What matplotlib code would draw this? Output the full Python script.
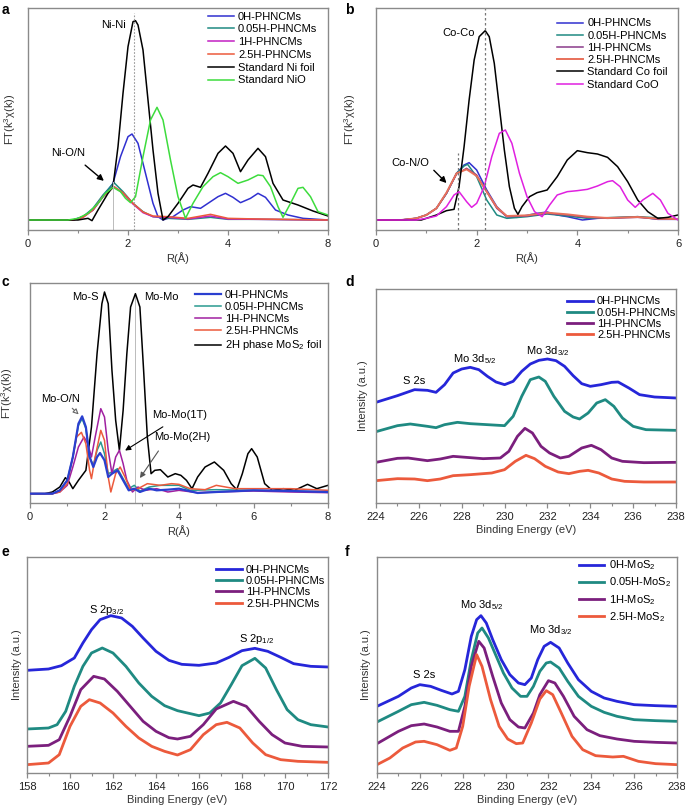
import matplotlib
matplotlib.use("Agg")
import matplotlib.pyplot as plt
from matplotlib.ticker import MultipleLocator

plt.rcParams['font.family'] = ['Liberation Sans', 'DejaVu Sans']
plt.rcParams['mathtext.fontset'] = 'custom'
plt.rcParams['mathtext.rm'] = 'Liberation Sans'
plt.rcParams['mathtext.it'] = 'Liberation Sans:italic'
plt.rcParams['mathtext.default'] = 'regular'

# ---------------- data (heights in arbitrary units) ----------------
# Panel a: Ni K-edge FT-EXAFS
a_black_x = [0, 1.0, 1.2, 1.28, 1.4, 1.6, 1.7, 1.8, 1.9, 2.0, 2.1, 2.15, 2.2, 2.3, 2.4, 2.5, 2.6, 2.7, 2.8, 3.0, 3.2, 3.3, 3.45, 3.6, 3.8, 3.95, 4.1, 4.25, 4.4, 4.6, 4.75, 4.9, 5.1, 5.4, 5.7, 6.0]
a_black_y = [0, 0, 5, -2, 30, 80, 100, 220, 380, 520, 595, 598, 585, 510, 360, 210, 80, 0, 10, 50, 95, 105, 98, 140, 200, 222, 200, 145, 180, 215, 190, 110, 60, 45, 27, 12]
a_green_x = [0, 0.8, 1.0, 1.2, 1.4, 1.55, 1.7, 1.85, 1.95, 2.05, 2.15, 2.3, 2.45, 2.58, 2.7, 2.85, 3.0, 3.15, 3.3, 3.5, 3.7, 3.85, 4.0, 4.2, 4.4, 4.6, 4.7, 4.85, 5.0, 5.1, 5.25, 5.4, 5.5, 5.65, 5.8, 6.0]
a_green_y = [0, 0, 5, 20, 50, 80, 98, 85, 65, 52, 70, 190, 300, 338, 300, 180, 70, 5, 50, 100, 130, 142, 130, 110, 120, 135, 133, 100, 40, 8, 50, 95, 98, 70, 25, 15]
a_blue_x = [0, 0.9, 1.1, 1.3, 1.5, 1.7, 1.85, 2.0, 2.08, 2.2, 2.35, 2.5, 2.6, 2.7, 2.9, 3.1, 3.25, 3.45, 3.6, 3.8, 3.95, 4.1, 4.25, 4.45, 4.6, 4.75, 4.95, 5.2, 5.5, 6.0]
a_blue_y = [0, 0, 10, 30, 70, 110, 190, 250, 258, 230, 140, 50, 10, 0, 10, 30, 40, 35, 50, 70, 80, 68, 52, 65, 80, 68, 30, 15, 5, 0]
a_s_x = [0, 0.9, 1.1, 1.3, 1.5, 1.72, 1.9, 2.1, 2.3, 2.5, 2.8, 3.2, 3.65, 4.0, 4.6, 6.0]
a_teal_y = [0, 0, 10, 35, 75, 112, 85, 50, 25, 10, 5, 2, 8, 2, 2, 0]
a_mag_y = [0, 0, 8, 30, 70, 100, 80, 48, 22, 10, 8, 3, 12, 3, 2, 0]
a_red_y = [0, 0, 8, 30, 70, 100, 82, 50, 24, 12, 10, 5, 17, 5, 3, 0]
a_ticks = [0, 2, 4, 6]
a_ticklabels = ['0', '2', '4', '8']

# Panel b: Co K-edge FT-EXAFS
b_black_x = [0, 0.9, 1.0, 1.2, 1.4, 1.55, 1.65, 1.75, 1.85, 1.95, 2.05, 2.17, 2.25, 2.35, 2.45, 2.55, 2.65, 2.75, 2.82, 2.9, 3.05, 3.2, 3.4, 3.6, 3.8, 4.0, 4.2, 4.4, 4.6, 4.8, 5.0, 5.2, 5.4, 5.6, 5.8, 6.0]
b_black_y = [0, 0, 5, 15, 28, 32, 100, 220, 360, 480, 550, 568, 550, 470, 340, 210, 100, 35, 17, 40, 70, 82, 90, 130, 180, 208, 202, 198, 188, 160, 115, 60, 25, 5, 8, 15]
b_coo_x = [0, 0.8, 1.0, 1.2, 1.4, 1.55, 1.65, 1.8, 1.9, 2.0, 2.15, 2.3, 2.45, 2.57, 2.7, 2.85, 3.0, 3.15, 3.3, 3.45, 3.6, 3.8, 4.0, 4.2, 4.4, 4.6, 4.7, 4.85, 5.0, 5.15, 5.3, 5.5, 5.65, 5.8, 6.0]
b_coo_y = [0, 0, 5, 12, 40, 75, 85, 55, 38, 50, 100, 190, 260, 270, 230, 140, 70, 25, 10, 45, 75, 85, 88, 92, 102, 115, 118, 100, 60, 38, 60, 80, 60, 20, 0]
b_blue_x = [0, 0.5, 0.8, 1.0, 1.2, 1.4, 1.6, 1.75, 1.85, 2.0, 2.2, 2.4, 2.6, 2.8, 3.2, 3.4, 3.6, 3.8, 4.1, 4.4, 4.8, 5.2, 5.6, 6.0]
b_blue_y = [0, 0, 5, 15, 35, 80, 140, 165, 172, 150, 90, 40, 10, 8, 20, 24, 15, 10, 0, 5, 7, 10, 2, 2]
b_teal_x = [0, 0.5, 0.8, 1.0, 1.2, 1.4, 1.6, 1.75, 1.82, 2.0, 2.2, 2.4, 2.6, 3.0, 3.4, 3.8, 4.2, 5.2, 6.0]
b_teal_y = [0, 0, 5, 15, 35, 80, 140, 162, 167, 130, 60, 15, 5, 10, 18, 12, 5, 10, 3]
b_s_x = [0, 0.5, 0.8, 1.0, 1.2, 1.4, 1.6, 1.8, 2.0, 2.2, 2.4, 2.6, 3.0, 3.4, 3.8, 4.2, 4.6, 5.2, 5.6, 6.0]
b_mag_y = [0, 0, 5, 15, 35, 80, 138, 155, 135, 85, 35, 10, 12, 20, 15, 8, 5, 8, 3, 2]
b_red_y = [0, 0, 5, 15, 35, 82, 140, 152, 132, 85, 38, 12, 14, 22, 17, 10, 6, 9, 4, 3]

# Panel c: Mo K-edge FT-EXAFS
c_black_x = [0, 0.4, 0.6, 0.8, 0.95, 1.05, 1.15, 1.3, 1.5, 1.65, 1.8, 1.93, 2.0, 2.1, 2.2, 2.3, 2.4, 2.5, 2.6, 2.7, 2.83, 2.95, 3.05, 3.15, 3.25, 3.35, 3.5, 3.7, 3.9, 4.05, 4.2, 4.35, 4.5, 4.7, 4.95, 5.2, 5.4, 5.55, 5.7, 5.85, 5.95, 6.1, 6.3, 6.5, 6.8, 7.1, 7.45, 7.7, 8.0]
c_black_y = [0, 0, 5, 20, 48, 35, 15, 40, 70, 200, 420, 570, 605, 570, 370, 220, 130, 250, 420, 560, 600, 560, 370, 170, 60, 70, 72, 50, 60, 55, 40, 15, 50, 80, 95, 70, 30, 12, 60, 120, 135, 110, 30, 10, 15, 10, 28, 15, 25]
c_blue_x = [0, 0.6, 0.8, 1.0, 1.15, 1.3, 1.4, 1.5, 1.6, 1.7, 1.8, 1.88, 2.0, 2.1, 2.2, 2.35, 2.5, 2.65, 2.8, 2.95, 3.2, 3.4, 3.7, 4.0, 4.5, 5.0, 6.0, 7.0, 8.0]
c_blue_y = [0, 0, 10, 40, 110, 210, 232, 200, 110, 80, 110, 122, 100, 50, 60, 70, 40, 10, 15, 5, 15, 10, 12, 15, 2, 5, 10, 8, 5]
c_teal_x = [0, 0.6, 0.8, 1.0, 1.15, 1.3, 1.4, 1.5, 1.6, 1.7, 1.8, 1.9, 2.0, 2.1, 2.2, 2.35, 2.5, 2.65, 2.8, 2.95, 3.2, 3.5, 3.8, 4.0, 4.3, 5.0, 6.0, 7.0, 8.0]
c_teal_y = [0, 0, 10, 40, 110, 205, 225, 195, 110, 85, 130, 155, 120, 60, 65, 75, 45, 15, 25, 8, 20, 25, 25, 25, 10, 12, 10, 8, 5]
c_mag_x = [0, 0.6, 0.8, 1.0, 1.15, 1.3, 1.45, 1.55, 1.65, 1.75, 1.9, 2.0, 2.1, 2.2, 2.3, 2.4, 2.5, 2.6, 2.75, 2.9, 3.1, 3.4, 3.7, 4.0, 4.5, 5.0, 6.0, 7.0, 8.0]
c_mag_y = [0, 0, 5, 25, 80, 140, 170, 150, 110, 170, 255, 230, 130, 60, 110, 130, 90, 40, 5, 20, 10, 15, 5, 10, 3, 5, 8, 5, 3]
c_red_x = [0, 0.6, 0.8, 1.0, 1.15, 1.25, 1.38, 1.5, 1.6, 1.65, 1.75, 1.9, 2.0, 2.1, 2.17, 2.3, 2.42, 2.55, 2.7, 2.9, 3.15, 3.5, 3.8, 4.0, 4.3, 4.7, 5.0, 5.5, 6.0, 7.0, 8.0]
c_red_y = [0, 0, 5, 30, 110, 170, 184, 150, 70, 45, 110, 190, 160, 50, 5, 60, 80, 50, 10, 15, 30, 25, 30, 28, 15, 12, 25, 15, 15, 15, 10]

# Panel d: Mo 3d XPS of PHNCMs
d_blue_x = [224, 225, 225.8, 226.4, 226.8, 227.2, 227.6, 228.0, 228.4, 228.8, 229.2, 229.6, 230.0, 230.4, 230.8, 231.2, 231.6, 232.0, 232.4, 232.8, 233.2, 233.6, 234.0, 234.5, 235.0, 235.3, 235.8, 236.3, 237.0, 238.0]
d_blue_y = [302, 322, 340, 338, 332, 355, 390, 402, 407, 400, 380, 363, 355, 365, 395, 417, 428, 432, 427, 410, 382, 358, 350, 355, 362, 363, 345, 325, 318, 315]
d_teal_x = [224, 225, 225.6, 226.4, 226.8, 227.2, 227.8, 228.4, 229.2, 230.0, 230.4, 230.8, 231.2, 231.6, 231.9, 232.3, 232.8, 233.2, 233.5, 233.9, 234.3, 234.7, 235.1, 235.5, 236.0, 236.6, 238.0]
d_teal_y = [214, 232, 237, 230, 226, 235, 242, 238, 235, 232, 260, 320, 370, 378, 365, 320, 275, 258, 252, 270, 300, 310, 290, 255, 230, 220, 218]
d_purp_x = [224, 225, 225.5, 226.4, 227.0, 227.6, 228.2, 229.0, 229.8, 230.2, 230.6, 230.95, 231.3, 231.7, 232.1, 232.6, 233.0, 233.6, 234.05, 234.5, 235.0, 235.5, 236.5, 238.0]
d_purp_y = [122, 134, 135, 127, 132, 140, 137, 133, 135, 155, 200, 224, 210, 170, 150, 135, 140, 165, 173, 160, 135, 125, 121, 122]
d_red_x = [224, 225, 225.8, 226.4, 227.0, 227.6, 228.4, 229.4, 230.0, 230.5, 231.0, 231.4, 231.9, 232.5, 233.0, 233.5, 233.9, 234.4, 235.0, 235.6, 236.5, 238.0]
d_red_y = [67, 73, 72, 67, 72, 82, 85, 90, 100, 125, 143, 133, 110, 93, 88, 95, 98, 90, 72, 65, 63, 63]

# Panel e: S 2p XPS of PHNCMs
e_blue_x = [158, 159, 159.6, 160.2, 160.6, 161.0, 161.4, 161.9, 162.4, 162.9, 163.4, 164.0, 164.6, 165.2, 166.0, 166.8, 167.4, 168.0, 168.6, 169.2, 169.8, 170.4, 171.2, 172]
e_blue_y = [308, 312, 322, 345, 390, 430, 460, 472, 465, 440, 405, 365, 338, 326, 323, 330, 347, 367, 374, 365, 347, 328, 320, 318]
e_teal_x = [158, 159, 159.4, 159.8, 160.2, 160.6, 161.0, 161.5, 162.0, 162.6, 163.2, 163.8, 164.4, 165.0, 165.6, 166.0, 166.5, 167.0, 167.5, 168.0, 168.6, 169.1, 169.6, 170.1, 170.6, 171.2, 172]
e_teal_y = [132, 135, 145, 185, 260, 320, 360, 375, 360, 320, 270, 230, 202, 187, 178, 172, 180, 210, 265, 322, 344, 315, 250, 190, 160, 145, 138]
e_purp_x = [158, 159, 159.5, 160.0, 160.5, 161.1, 161.6, 162.2, 162.8, 163.4, 164.0, 164.6, 165.0, 165.6, 166.2, 166.8, 167.6, 168.2, 168.8, 169.4, 170.0, 170.8, 172]
e_purp_y = [80, 83, 100, 170, 250, 290, 282, 245, 200, 155, 125, 106, 102, 110, 145, 192, 215, 200, 155, 115, 90, 80, 78]
e_red_x = [158, 159, 159.5, 160.0, 160.5, 160.9, 161.4, 162.0, 162.6, 163.2, 163.8, 164.4, 165.0, 165.6, 166.2, 166.8, 167.3, 167.9, 168.5, 169.1, 169.8, 170.6, 172]
e_red_y = [25, 30, 55, 140, 200, 220, 210, 180, 140, 105, 80, 65, 54, 70, 115, 145, 152, 135, 90, 55, 40, 35, 32]

# Panel f: Mo 3d XPS of MoS2
f_blue_x = [224, 225, 225.6, 226.0, 226.5, 227.0, 227.5, 227.8, 228.1, 228.4, 228.65, 228.85, 229.1, 229.4, 229.8, 230.2, 230.6, 230.9, 231.2, 231.5, 231.8, 232.1, 232.5, 232.9, 233.4, 234.0, 234.6, 235.2, 236.0, 237.0, 238]
f_blue_y = [200, 230, 255, 265, 260, 248, 237, 245, 310, 410, 460, 472, 450, 400, 340, 295, 270, 265, 285, 340, 380, 392, 375, 330, 280, 245, 225, 215, 205, 202, 200]
f_teal_x = [224, 225, 225.6, 226.2, 226.8, 227.4, 227.8, 228.1, 228.4, 228.7, 228.9, 229.2, 229.5, 229.9, 230.3, 230.7, 231.0, 231.3, 231.6, 231.9, 232.1, 232.5, 232.9, 233.4, 234.0, 234.6, 235.2, 236.0, 237.0, 238]
f_teal_y = [153, 185, 205, 212, 203, 190, 185, 230, 340, 420, 435, 405, 360, 300, 255, 230, 230, 260, 305, 330, 333, 315, 275, 230, 200, 182, 170, 160, 157, 155]
f_purp_x = [224, 225, 225.6, 226.2, 226.8, 227.4, 227.8, 228.1, 228.4, 228.75, 229.0, 229.4, 229.8, 230.2, 230.6, 230.9, 231.3, 231.6, 232.0, 232.3, 232.7, 233.2, 233.8, 234.4, 235.2, 236.0, 237.0, 238]
f_purp_y = [88, 125, 142, 147, 138, 125, 125, 200, 320, 395, 375, 290, 210, 160, 138, 135, 180, 235, 277, 270, 230, 170, 130, 112, 102, 95, 92, 90]
f_red_x = [224, 224.6, 225.2, 225.8, 226.2, 226.8, 227.4, 227.7, 228.0, 228.3, 228.65, 228.9, 229.3, 229.7, 230.1, 230.5, 230.8, 231.2, 231.6, 231.9, 232.2, 232.6, 233.1, 233.6, 234.2, 235.0, 235.5, 236.2, 237.0, 238]
f_red_y = [25, 45, 75, 93, 95, 85, 68, 75, 140, 260, 355, 320, 220, 140, 102, 88, 90, 150, 222, 247, 235, 180, 110, 70, 52, 48, 50, 35, 28, 25]

# labels
labels_pn = ['0H-PHNCMs', '0.05H-PHNCMs', '1H-PHNCMs', '2.5H-PHNCMs']
labels_mos2 = ['0H-MoS$_2$', '0.05H-MoS$_2$', '1H-MoS$_2$', '2.5H-MoS$_2$']

# ---------------- styling ----------------
BLUE = '#2626d9'
TEAL = '#1f8a82'
RED = '#ec5a3c'
PURP = '#7b1f7d'
GRAY = '#8a8a8a'

W, H = 685, 807
fig = plt.figure(figsize=(W / 100, H / 100), dpi=100)


def ax_at(l, t, r, b):
    return fig.add_axes([l / W, 1 - b / H, (r - l) / W, (b - t) / H])


def style(ax, major, minor, xlab, ylab, ylab_x):
    for s in ax.spines.values():
        s.set_color(GRAY)
        s.set_linewidth(1.0)
    ax.set_yticks([])
    ax.xaxis.set_major_locator(MultipleLocator(major))
    ax.xaxis.set_minor_locator(MultipleLocator(minor))
    ax.tick_params(axis='x', which='major', direction='out', length=3.5, width=0.9,
                   color=GRAY, labelsize=8, labelcolor='#222222', pad=3)
    ax.tick_params(axis='x', which='minor', direction='out', length=2, width=0.8, color=GRAY)
    ax.set_xlabel(xlab, fontsize=8, color='#333333', labelpad=2)
    ax.set_ylabel(ylab, fontsize=8, color='#333333')
    ax.yaxis.set_label_coords(ylab_x, 0.5)


def leg(ax, x, y, spacing, hl=2.3):
    return ax.legend(loc='upper left', bbox_to_anchor=(x, y), frameon=False, fontsize=8,
                     handlelength=hl, handletextpad=0.4, labelspacing=spacing, borderpad=0,
                     borderaxespad=0)


FT = 'FT(k$^3$χ(k))'
INT = 'Intensity (a.u.)'
BE = 'Binding Energy (eV)'
RA = 'R(Å)'

# ---------------- panel a ----------------
ax = ax_at(28, 8, 328, 230)
lw = 1.1
ax.plot(a_blue_x, a_blue_y, color='#3030d0', lw=lw, label=labels_pn[0])
ax.plot(a_s_x, a_teal_y, color=TEAL, lw=lw, label=labels_pn[1])
ax.plot(a_s_x, a_mag_y, color='#c21fc2', lw=lw, label=labels_pn[2])
ax.plot(a_s_x, a_red_y, color=RED, lw=lw, label=labels_pn[3])
ax.plot(a_black_x, a_black_y, color='black', lw=lw, label='Standard Ni foil')
ax.plot(a_green_x, a_green_y, color='#3ddc3d', lw=lw, label='Standard NiO')
ax.set_xlim(0, 6)
ax.set_ylim(-30, 636)
ax.plot([1.7, 1.7], [-30, 115], color='#bbbbbb', lw=0.7)
ax.plot([2.12, 2.12], [-30, 620], color='#999999', lw=0.8, ls=(0, (1.5, 1.5)))
style(ax, 2, 1, RA, FT, -0.033)
ax.set_xticks(a_ticks, labels=a_ticklabels)
ax.text(1.7, 585, 'Ni-Ni', fontsize=8, ha='center', va='center')
ax.text(0.8, 200, 'Ni-O/N', fontsize=8, ha='center', va='center')
ax.annotate('', xy=(1.56, 112), xytext=(1.10, 170),
            arrowprops=dict(arrowstyle='-|>', color='black', lw=1, mutation_scale=9))
leg(ax, 0.60, 0.984, 0.25)

# ---------------- panel b ----------------
ax = ax_at(376, 8, 678, 230)
ax.plot(b_blue_x, b_blue_y, color='#3030d0', lw=lw, label=labels_pn[0])
ax.plot(b_teal_x, b_teal_y, color=TEAL, lw=lw, label=labels_pn[1])
ax.plot(b_s_x, b_mag_y, color='#8a3a8a', lw=lw, label=labels_pn[2])
ax.plot(b_s_x, b_red_y, color='#e8705a', lw=lw + 0.3, label=labels_pn[3])
ax.plot(b_black_x, b_black_y, color='black', lw=lw, label='Standard Co foil')
ax.plot(b_coo_x, b_coo_y, color='#e020e0', lw=lw, label='Standard CoO')
ax.set_xlim(0, 6)
ax.set_ylim(-30, 636)
ax.plot([1.63, 1.63], [-30, 200], color='#777777', lw=0.9, ls=(0, (2, 2)))
ax.plot([2.17, 2.17], [-30, 640], color='#777777', lw=0.9, ls=(0, (2, 2)))
style(ax, 2, 1, RA, FT, -0.06)
ax.text(1.64, 560, 'Co-Co', fontsize=8, ha='center', va='center')
ax.text(0.68, 170, 'Co-N/O', fontsize=8, ha='center', va='center')
ax.annotate('', xy=(1.44, 105), xytext=(1.11, 155),
            arrowprops=dict(arrowstyle='-|>', color='black', lw=1, mutation_scale=9))
leg(ax, 0.60, 0.953, 0.2)

# ---------------- panel c ----------------
ax = ax_at(30, 283, 328, 503)
ax.plot(c_blue_x, c_blue_y, color='#2a3fd0', lw=1.6, label=labels_pn[0], zorder=4)
ax.plot(c_teal_x, c_teal_y, color='#2a9a90', lw=lw, label=labels_pn[1], zorder=3)
ax.plot(c_mag_x, c_mag_y, color='#a020a0', lw=lw, label=labels_pn[2], zorder=3)
ax.plot(c_red_x, c_red_y, color=RED, lw=lw, label=labels_pn[3], zorder=3)
ax.plot(c_black_x, c_black_y, color='black', lw=lw, label='2H phase MoS$_2$ foil', zorder=2)
ax.set_xlim(0, 8)
ax.set_ylim(-28, 632)
ax.plot([2.83, 2.83], [-28, 600], color='#bbbbbb', lw=0.7, zorder=1)
style(ax, 2, 1, RA, FT, -0.05)
ax.text(1.48, 590, 'Mo-S', fontsize=8, ha='center', va='center')
ax.text(3.54, 590, 'Mo-Mo', fontsize=8, ha='center', va='center')
ax.text(0.82, 285, 'Mo-O/N', fontsize=8, ha='center', va='center')
ax.text(4.03, 235, 'Mo-Mo(1T)', fontsize=8, ha='center', va='center')
ax.text(4.08, 170, 'Mo-Mo(2H)', fontsize=8, ha='center', va='center')
ax.annotate('', xy=(1.36, 232), xytext=(1.08, 262),
            arrowprops=dict(arrowstyle='-|>', color='#666666', lw=0.8, mutation_scale=8, fc='white'))
ax.annotate('', xy=(2.49, 125), xytext=(3.63, 205),
            arrowprops=dict(arrowstyle='-|>', color='black', lw=0.8, mutation_scale=8))
ax.annotate('', xy=(2.91, 40), xytext=(3.49, 135),
            arrowprops=dict(arrowstyle='-|>', color='#555555', lw=0.8, mutation_scale=8))
leg(ax, 0.554, 0.97, 0.2)

# ---------------- panel d ----------------
lw2 = 2.0
ax = ax_at(376, 289, 676, 503)
ax.plot(d_blue_x, d_blue_y, color=BLUE, lw=lw2, label=labels_pn[0])
ax.plot(d_teal_x, d_teal_y, color=TEAL, lw=lw2, label=labels_pn[1])
ax.plot(d_purp_x, d_purp_y, color=PURP, lw=lw2, label=labels_pn[2])
ax.plot(d_red_x, d_red_y, color=RED, lw=lw2, label=labels_pn[3])
ax.set_xlim(224, 238)
ax.set_ylim(0, 642)
style(ax, 2, 1, BE, INT, -0.027)
ax.text(225.8, 365, 'S 2s', fontsize=8, ha='center', va='center')
ax.text(228.6, 432, 'Mo 3d$_{5/2}$', fontsize=8, ha='center', va='center')
ax.text(232.0, 457, 'Mo 3d$_{3/2}$', fontsize=8, ha='center', va='center')
leg(ax, 0.637, 0.965, 0.1)

# ---------------- panel e ----------------
ax = ax_at(27, 557, 328, 773)
ax.plot(e_blue_x, e_blue_y, color=BLUE, lw=lw2, label=labels_pn[0])
ax.plot(e_teal_x, e_teal_y, color=TEAL, lw=lw2, label=labels_pn[1])
ax.plot(e_purp_x, e_purp_y, color=PURP, lw=lw2, label=labels_pn[2])
ax.plot(e_red_x, e_red_y, color=RED, lw=lw2, label=labels_pn[3])
ax.set_xlim(158, 172)
ax.set_ylim(0, 648)
style(ax, 2, 1, BE, INT, -0.017)
ax.text(161.7, 490, 'S 2p$_{3/2}$', fontsize=8, ha='center', va='center')
ax.text(168.7, 402, 'S 2p$_{1/2}$', fontsize=8, ha='center', va='center')
leg(ax, 0.628, 0.965, 0.12)

# ---------------- panel f ----------------
ax = ax_at(377, 557, 677, 773)
ax.plot(f_blue_x, f_blue_y, color=BLUE, lw=lw2, label=labels_mos2[0])
ax.plot(f_teal_x, f_teal_y, color=TEAL, lw=lw2, label=labels_mos2[1])
ax.plot(f_purp_x, f_purp_y, color=PURP, lw=lw2, label=labels_mos2[2])
ax.plot(f_red_x, f_red_y, color=RED, lw=lw2, label=labels_mos2[3])
ax.set_xlim(224, 238)
ax.set_ylim(0, 648)
style(ax, 2, 1, BE, INT, -0.02)
ax.text(226.2, 295, 'S 2s', fontsize=8, ha='center', va='center')
ax.text(228.9, 505, 'Mo 3d$_{5/2}$', fontsize=8, ha='center', va='center')
ax.text(232.1, 430, 'Mo 3d$_{3/2}$', fontsize=8, ha='center', va='center')
leg(ax, 0.673, 0.993, 0.3)

# panel letters
for lab, (px, py) in zip('abcdef', [(2, 10), (345, 10), (2, 282), (345, 282), (2, 552), (345, 552)]):
    fig.text(px / W, 1 - py / H, lab, fontsize=10, fontweight='bold', ha='left', va='center')

fig.savefig('out.png', dpi=100)
